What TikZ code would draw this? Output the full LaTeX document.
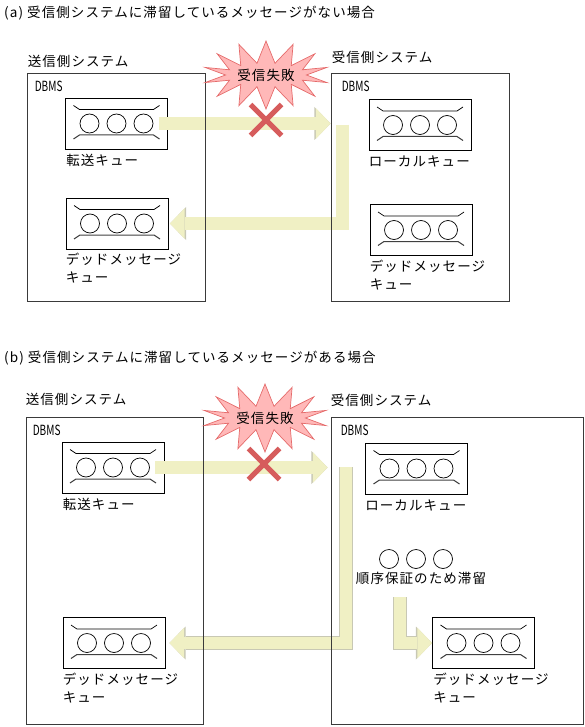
\documentclass[tikz,border=0pt]{standalone}
\usepackage{fontspec}
\setmainfont{Noto Sans CJK JP}[LetterSpace=8]
\newfontfamily\narrowfont{Noto Sans CJK JP}[FakeStretch=0.72]
\usetikzlibrary{positioning,shapes.symbols,shapes.misc,arrows.meta}

\definecolor{boxline}{HTML}{3A3A3A}
\definecolor{arrowfill}{HTML}{F0F0C4}
\definecolor{arrowline}{HTML}{C8C8B4}
\definecolor{burstfill}{HTML}{FFB8B8}
\definecolor{burstline}{HTML}{E56B6B}
\definecolor{xred}{HTML}{D65C5C}

\pgfdeclarelayer{front}
\pgfsetlayers{main,front}

\begin{document}
\begin{tikzpicture}[x=1pt, y=-1pt, font=\fontsize{13.5}{18}\selectfont,
  sys/.style={draw=boxline, line width=0.8pt, minimum width=178pt, minimum height=228pt, inner sep=0pt},
  queue/.style={draw, line width=0.8pt, minimum width=102pt, minimum height=51pt, inner sep=0pt,
    path picture={\draw[line width=0.7pt, shift={(path picture bounding box.center)}]
      (-43,-18) -- (-37,-14) -- (37,-14) -- (43,-18)
      (-27,0) circle[radius=9.5pt] (0,0) circle[radius=9.5pt] (27,0) circle[radius=9.5pt];
      \draw[line width=1pt, black!75, shift={(path picture bounding box.center)}]
      (-43,15.5) -- (-37,11.5) -- (37,11.5) -- (43,15.5);}},
  msgs/.style={minimum width=84pt, minimum height=22pt, inner sep=0pt,
    path picture={\draw[line width=0.7pt, shift={(path picture bounding box.center)}]
      (-27,0) circle[radius=9.5pt] (0,0) circle[radius=9.5pt] (27,0) circle[radius=9.5pt];}},
  lbl/.style={inner sep=0pt, align=left},
  title/.style={inner sep=0pt, anchor=west},
  dbms/.style={inner sep=0pt, font=\narrowfont\fontsize{14}{14}\selectfont},
  burst/.style={starburst, starburst points=14, starburst point height=22pt, random starburst=0,
    draw=burstline, fill=burstfill, line width=0.7pt, minimum width=124pt, minimum height=68pt, inner sep=0pt},
  xmark/.style={cross out, draw=xred, line width=5pt, minimum size=26pt, inner sep=0pt},
  fat/.style={draw=arrowfill, line width=12.4pt, line join=miter,
    -{Triangle[width=30.6pt, length=14.8pt, line width=0pt]},
    preaction={draw=arrowline, line width=13.8pt, line join=miter,
      -{Triangle[width=33pt, length=16.2pt, line width=0pt]}}}]

\useasboundingbox (0,0) rectangle (585,727);

% (a) no messages held
\node[title] (titleA) at (4,13) {(a) 受信側システムに滞留しているメッセージがない場合};
\begin{pgfonlayer}{front}
\node[sys] (sendA) at (116,187) {};
\node[sys] (rcvA) at (420,187) {};
\node[burst] (failA) at (266,75) {受信失敗};
\end{pgfonlayer}
\node[lbl, above right=5pt and 1pt of sendA.north west] (sendlA) {送信側システム};
\node[lbl, above right=9pt and 1pt of rcvA.north west] (rcvlA) {受信側システム};
\node[dbms, below right=8pt and 8pt of sendA.north west] (dbmsA1) {DBMS};
\node[dbms, below right=8pt and 11pt of rcvA.north west] (dbmsA2) {DBMS};

\node[queue] (sendqA) at (116.5,123.5) {};
\node[queue] (deadA) at (117,223.5) {};
\node[queue] (localA) at (420,125) {};
\node[queue] (deadrA) at (421,230) {};
\node[lbl, below right=5pt and 1pt of sendqA.south west] (sendqlA) {転送キュー};
\node[lbl, below right=3pt and 0pt of deadA.south west] (deadlA) {デッドメッセージ\\キュー};
\node[lbl, below right=5pt and 0pt of localA.south west] (locallA) {ローカルキュー};
\node[lbl, below right=4pt and 0pt of deadrA.south west] (deadrlA) {デッドメッセージ\\キュー};

\coordinate (retA) at (342.5,125);
\draw[fat] ([xshift=-9pt]sendqA.east) -- (sendqA.east -| rcvA.west);
\draw[fat] (retA) |- ([xshift=1.5pt]deadA.east);
\node[xmark] (xA) at (266,120) {};

% (b) messages held for ordering
\node[title] (titleB) at (4,358) {(b) 受信側システムに滞留しているメッセージがある場合};
\begin{pgfonlayer}{front}
\node[sys, minimum width=177pt, minimum height=307pt] (sendB) at (114.5,570.5) {};
\node[sys, minimum width=252pt, minimum height=307pt] (rcvB) at (457,570.5) {};
\node[burst] (failB) at (265,418) {受信失敗};
\end{pgfonlayer}
\node[lbl, above right=11pt and 0pt of sendB.north west] (sendlB) {送信側システム};
\node[lbl, above right=10pt and 0pt of rcvB.north west] (rcvlB) {受信側システム};
\node[dbms, below right=8pt and 7pt of sendB.north west] (dbmsB1) {DBMS};
\node[dbms, below right=8pt and 10pt of rcvB.north west] (dbmsB2) {DBMS};

\node[queue] (sendqB) at (113,467.5) {};
\node[queue] (localB) at (416.5,468.5) {};
\node[queue] (deadB) at (114,643) {};
\node[queue] (deadrB) at (483.5,643) {};
\node[msgs] (holdB) at (416,559) {};
\node[lbl, below right=5pt and 1pt of sendqB.south west] (sendqlB) {転送キュー};
\node[lbl, below right=5pt and 0pt of localB.south west] (locallB) {ローカルキュー};
\node[lbl, below=2pt of holdB, xshift=5pt] (holdlB) {順序保証のため滞留};
\node[lbl, below right=4pt and 0pt of deadB.south west] (deadlB) {デッドメッセージ\\キュー};
\node[lbl, below right=4pt and 1pt of deadrB.south west] (deadrlB) {デッドメッセージ\\キュー};

\coordinate (retB) at (346,467);
\coordinate (holdsB) at (400,597);
\draw[fat, shorten >=3pt] ([xshift=-9pt]sendqB.east) -- (sendqB.east -| rcvB.west);
\draw[fat] (retB) |- ([xshift=4pt]deadB.east);
\draw[fat] (holdsB) |- (deadrB.west);
\node[xmark] (xB) at (264,464) {};
\end{tikzpicture}
\end{document}
